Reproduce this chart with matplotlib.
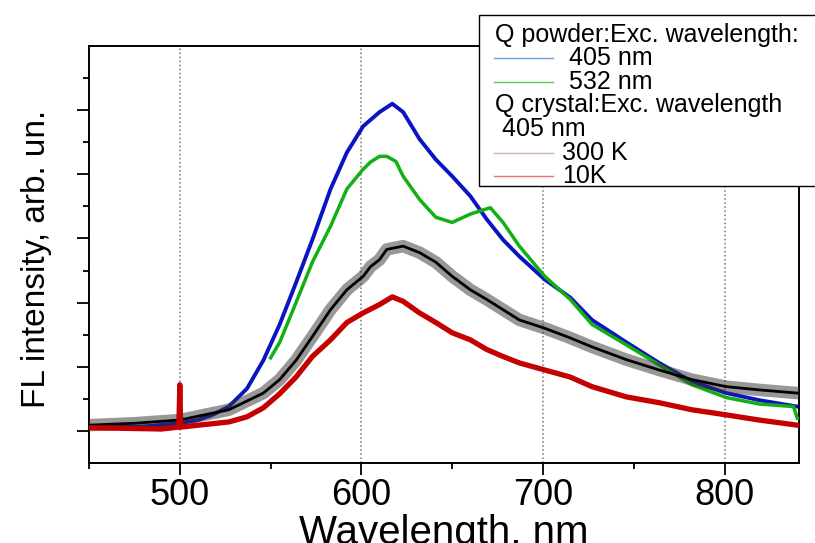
import matplotlib
matplotlib.use("Agg")
import matplotlib.pyplot as plt
import matplotlib.patheffects as pe
from matplotlib.patches import Rectangle
from matplotlib.lines import Line2D

plt.rcParams['font.family'] = ['Liberation Sans', 'DejaVu Sans']

# Q powder, excitation 405 nm
wl_p405 = [450, 480, 500, 510, 518, 527, 537, 546, 555, 564, 573, 583, 592, 601, 610, 617,
           623, 632, 641, 650, 660, 669, 678, 687, 701, 715, 727, 746, 764, 782, 801, 819, 840]
fl_p405 = [0.05, 0.07, 0.12, 0.17, 0.25, 0.38, 0.66, 1.10, 1.66, 2.31, 2.98, 3.77, 4.34, 4.75, 4.97, 5.10,
           4.97, 4.55, 4.23, 3.97, 3.66, 3.30, 2.98, 2.72, 2.36, 2.08, 1.73, 1.38, 1.06, 0.77, 0.59, 0.48, 0.38]

# Q powder, excitation 532 nm
wl_p532 = [550, 555, 564, 573, 583, 592, 601, 605, 610, 614, 619, 623, 632, 641, 650, 660,
           671, 678, 687, 701, 715, 727, 746, 764, 782, 801, 819, 838, 840]
fl_p532 = [1.14, 1.38, 2.00, 2.63, 3.19, 3.77, 4.08, 4.19, 4.28, 4.28, 4.20, 3.97, 3.61, 3.33, 3.25, 3.38,
           3.48, 3.25, 2.88, 2.41, 2.05, 1.66, 1.34, 1.03, 0.72, 0.52, 0.42, 0.38, 0.20]

# Q crystal, 405 nm, 300 K
wl_c300 = [450, 475, 500, 527, 546, 555, 564, 573, 583, 592, 601, 605, 610, 614, 623, 632,
           641, 650, 660, 669, 678, 687, 701, 715, 727, 746, 764, 782, 801, 819, 840]
fl_c300 = [0.09, 0.12, 0.17, 0.33, 0.59, 0.80, 1.10, 1.47, 1.89, 2.20, 2.41, 2.56, 2.67, 2.83, 2.88, 2.78,
           2.63, 2.41, 2.20, 2.05, 1.89, 1.73, 1.60, 1.45, 1.31, 1.11, 0.95, 0.80, 0.69, 0.64, 0.59]

# Q crystal, 405 nm, 10 K
wl_c10 = [450, 490, 499.5, 500, 500.5, 527, 537, 546, 555, 564, 573, 583, 592, 601, 610, 617,
          623, 632, 641, 650, 660, 669, 678, 687, 701, 715, 727, 746, 764, 782, 801, 819, 840]
fl_c10 = [0.05, 0.03, 0.06, 0.72, 0.06, 0.14, 0.22, 0.36, 0.58, 0.84, 1.16, 1.42, 1.69, 1.84, 1.97, 2.09,
          2.02, 1.84, 1.69, 1.53, 1.42, 1.27, 1.16, 1.06, 0.95, 0.84, 0.69, 0.53, 0.44, 0.33, 0.25, 0.17, 0.09]

fig = plt.figure(figsize=(8.15, 5.43), dpi=100)
ax = fig.add_axes([0.1092, 0.1473, 0.8712, 0.768])

ax.plot(wl_p405, fl_p405, color='#0a14c0', lw=2.8, zorder=2)
ax.plot(wl_p532, fl_p532, color='#12b012', lw=2.5, zorder=3)
ax.plot(wl_c300, fl_c300, color='black', lw=2.0, zorder=4,
        path_effects=[pe.Stroke(linewidth=9, foreground='#333333', alpha=0.5), pe.Normal()])
ax.plot(wl_c10, fl_c10, color='#c40000', lw=3.8, zorder=5)

ax.set_xlim(450, 841)
ax.set_ylim(-0.5, 6.0)
ax.set_xticks([500, 600, 700, 800])
ax.set_xticks([450, 550, 650, 750], minor=True)
ax.set_yticks([0, 1, 2, 3, 4, 5])
ax.set_yticks([0.5, 1.5, 2.5, 3.5, 4.5, 5.5], minor=True)
ax.set_yticklabels([])
ax.tick_params(which='major', direction='out', length=8.5, width=1.3, labelsize=26, pad=2)
ax.tick_params(which='minor', direction='out', length=4.3, width=1.3)
ax.grid(axis='x', which='major', ls=':', color='#777777', lw=1.1)
for s in ax.spines.values():
    s.set_linewidth(1.4)

ax.set_xlabel('Wavelength, nm', fontsize=29, labelpad=1)
ax.set_ylabel('FL intensity, arb. un.', fontsize=24)
ax.yaxis.set_label_coords(-0.052, 0.49)

# legend box (runs off the right edge, as in the original)
W, H = 815.0, 543.0
def fx(px):
    return px / W
def fy(py):
    return 1 - py / H

fig.add_artist(Rectangle((fx(479), fy(186)), 0.5, fy(15) - fy(186), transform=fig.transFigure,
                         facecolor='white', edgecolor='black', lw=1.0, zorder=10))

rows = [35, 58, 82, 105, 129, 153, 176]
leg_texts = ['Q powder:Exc. wavelength:', '405 nm', '532 nm', 'Q crystal:Exc. wavelength',
             ' 405 nm', '300 K', '10K']
leg_x = [495, 569, 569, 495, 495, 562, 562]
leg_colors = [None, '#6e9fd6', '#5ac85a', None, None, '#cfb0c2', '#ef7070']
for yy, t, xx, c in zip(rows, leg_texts, leg_x, leg_colors):
    fig.text(fx(xx), fy(yy), t, fontsize=18, ha='left', va='center', zorder=11)
    if c is not None:
        fig.add_artist(Line2D([fx(494), fx(553)], [fy(yy), fy(yy)], transform=fig.transFigure,
                              color=c, lw=1.0, zorder=11))

fig.savefig('out.png', dpi=100)
